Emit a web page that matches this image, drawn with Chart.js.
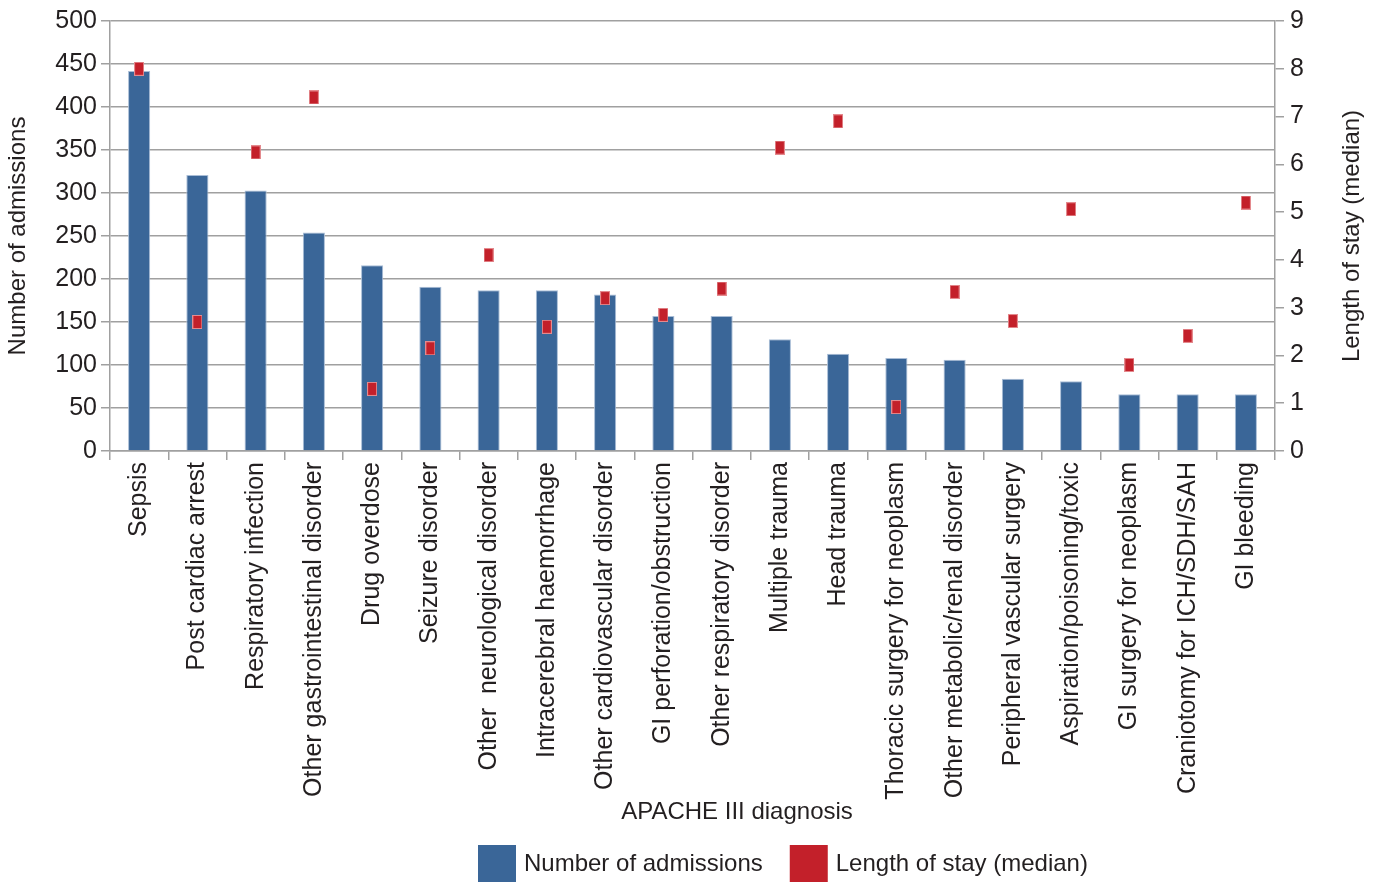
<!DOCTYPE html>
<html>
<head>
<script src="https://cdn.jsdelivr.net/npm/chart.js@4.4.1/dist/chart.umd.min.js"></script>
<style>
body{margin:0;background:#fff;}
#wrap{width:1376px;height:883px;position:relative;}
</style>
</head>
<body>
<div id="wrap"><canvas id="myChart"></canvas></div>
<script>
// APACHE III diagnosis categories
var diagnoses = ["Sepsis","Post cardiac arrest","Respiratory infection","Other gastrointestinal disorder",
  "Drug overdose","Seizure disorder","Other  neurological disorder","Intracerebral haemorrhage",
  "Other cardiovascular disorder","GI perforation/obstruction","Other respiratory disorder",
  "Multiple trauma","Head trauma","Thoracic surgery for neoplasm","Other metabolic/renal disorder",
  "Peripheral vascular surgery","Aspiration/poisoning/toxic","GI surgery for neoplasm",
  "Craniotomy for ICH/SDH/SAH","GI bleeding"];
var admissions = [442,321,303,254,216,191,187,187,182,157,157,130,113,108,106,84,81,66,66,66];
var stayMedian = [8.0,2.7,6.25,7.4,1.3,2.15,4.1,2.6,3.2,2.85,3.4,6.35,6.9,0.92,3.33,2.72,5.06,1.8,2.41,5.2];

var blue="#3a6698";
var red="#c3202a";
var txt="#231f20";
var fam="'Liberation Sans', Arial, Helvetica, sans-serif";
var tickFont={family:fam,size:25};

// small tall red rectangle for the median markers
var mark=document.createElement("canvas");
mark.width=10;mark.height=14;
var mc=mark.getContext("2d");
mc.fillStyle="#e48a8e";mc.fillRect(0,0,10,14);
mc.fillStyle=red;mc.fillRect(1,1,8,12);

// x title, right axis title and legend drawn by hand so they sit where the original has them
var extras={
  id:"extras",
  afterDraw:function(chart){
    var c=chart.ctx, a=chart.chartArea;
    c.save();
    c.fillStyle=txt;
    c.font="24px "+fam;
    c.textBaseline="middle";
    c.textAlign="center";
    c.fillText("APACHE III diagnosis",737,812);
    c.save();
    c.translate(1352,(a.top+a.bottom)/2);
    c.rotate(-Math.PI/2);
    c.fillText("Length of stay (median)",0,0);
    c.restore();
    c.textAlign="left";
    var x=478;
    chart.data.datasets.slice().reverse().forEach(function(ds){
      c.fillStyle=ds.backgroundColor;
      c.fillRect(x,845,38,37);
      c.fillStyle=txt;
      c.fillText(ds.label,x+46,864);
      x+=46+c.measureText(ds.label).width+27;
    });
    c.restore();
  }
};

new Chart("myChart",{
  type:"bar",
  data:{
    labels:diagnoses,
    datasets:[{
      type:"line",
      label:"Length of stay (median)",
      data:stayMedian,
      yAxisID:"y2",
      showLine:false,
      pointStyle:mark,
      backgroundColor:red,
      borderColor:red,
      order:0
    },{
      label:"Number of admissions",
      data:admissions,
      yAxisID:"y",
      backgroundColor:blue,
      borderColor:"#a9bdd6",
      borderWidth:1,
      categoryPercentage:1,
      barPercentage:0.38,
      order:1
    }]
  },
  plugins:[extras],
  options:{
    responsive:true,
    maintainAspectRatio:false,
    animation:false,
    layout:{padding:{top:21,left:0,right:0,bottom:72}},
    plugins:{legend:{display:false},tooltip:{enabled:false}},
    scales:{
      x:{
        afterFit:function(s){s.height=360;},
        grid:{display:true,drawOnChartArea:false,drawTicks:true,tickLength:9,color:"#a0a0a0",lineWidth:1.5},
        border:{color:"#a0a0a0",width:1.5},
        ticks:{font:tickFont,color:txt,maxRotation:90,minRotation:90,autoSkip:false,padding:2}
      },
      y:{
        position:"left",
        min:0,max:500,
        afterFit:function(s){s.width=110;},
        ticks:{stepSize:50,font:tickFont,color:txt,padding:4},
        grid:{color:"#a0a0a0",lineWidth:1.5,tickLength:9},
        border:{color:"#a0a0a0",width:1.5},
        title:{display:true,text:"Number of admissions",font:{family:fam,size:24},color:txt,padding:4}
      },
      y2:{
        position:"right",
        min:0,max:9,
        afterFit:function(s){s.width=101;},
        ticks:{stepSize:1,font:tickFont,color:txt,padding:6},
        grid:{drawOnChartArea:false,color:"#a0a0a0",lineWidth:1.5,tickLength:9},
        border:{color:"#a0a0a0",width:1.5}
      }
    }
  }
});
</script>
</body>
</html>
